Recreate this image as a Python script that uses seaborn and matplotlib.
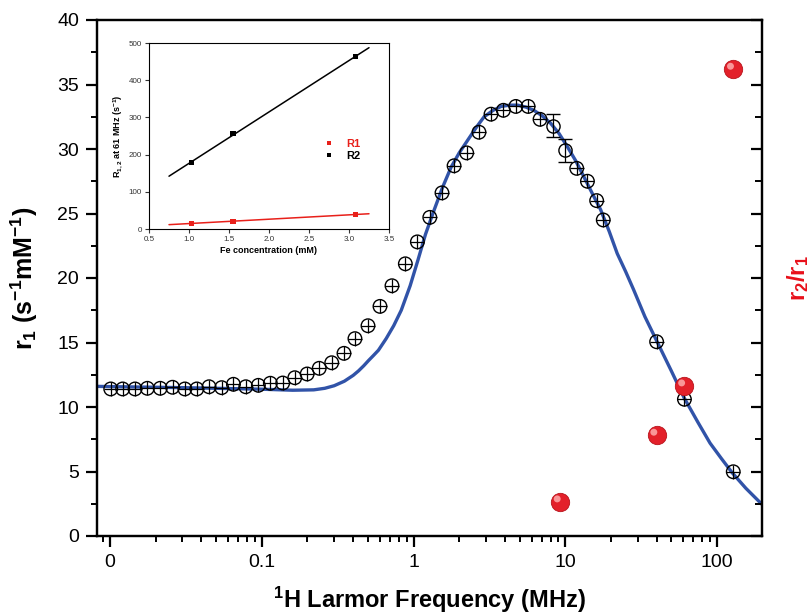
import numpy as np
import pandas as pd
import matplotlib
matplotlib.use("Agg")
import matplotlib.pyplot as plt
from matplotlib.ticker import MultipleLocator, LogLocator, FixedLocator, FixedFormatter, NullFormatter
from matplotlib.path import Path
import seaborn as sns

# ---------------- data ----------------
# NMRD profile (r1 vs 1H Larmor frequency)
freq = [0.0101, 0.0121, 0.0146, 0.0176, 0.0214, 0.0258, 0.0311, 0.0373, 0.0449, 0.0544,
        0.0650, 0.0784, 0.0949, 0.1138, 0.1374, 0.165, 0.199, 0.239, 0.289, 0.348,
        0.411, 0.501, 0.601, 0.721, 0.883, 1.06, 1.28, 1.54, 1.85, 2.24,
        2.70, 3.24, 3.91, 4.72, 5.69, 6.82, 11.9, 14.0, 16.1, 17.8,
        40.0, 61.0, 128.0]
r1 = [11.40, 11.40, 11.40, 11.45, 11.45, 11.53, 11.40, 11.40, 11.57, 11.50,
      11.76, 11.57, 11.68, 11.84, 11.86, 12.27, 12.56, 13.00, 13.43, 14.16,
      15.3, 16.3, 17.8, 19.4, 21.1, 22.8, 24.7, 26.6, 28.7, 29.7,
      31.3, 32.7, 33.0, 33.3, 33.3, 32.3, 28.5, 27.5, 26.0, 24.5,
      15.06, 10.6, 4.98]
# points drawn with error bars
freq_err = [8.26, 9.95]
r1_err = [31.8, 29.9]
r1_err_size = [0.9, 0.9]

# fitted curve
fit_f = [0.0082, 0.01, 0.03, 0.1, 0.16, 0.22, 0.26, 0.30, 0.35, 0.40, 0.434, 0.47, 0.505,
         0.545, 0.587, 0.66, 0.74, 0.83, 0.95, 1.07, 1.2, 1.37, 1.55, 1.77, 2.0, 2.28,
         2.6, 2.92, 3.35, 3.78, 4.3, 4.85, 5.5, 6.2, 7.0, 8.0, 9.1, 10.3, 11.7, 13.2,
         15.0, 17.1, 19.5, 22.0, 25.0, 28.2, 33.5, 40.3, 50.0, 60.8, 75.0, 90.0, 107.0,
         126.0, 155.0, 198.0]
fit_r = [11.6, 11.58, 11.5, 11.38, 11.3, 11.33, 11.45, 11.65, 12.0, 12.45, 12.8, 13.2, 13.6,
         14.0, 14.4, 15.3, 16.3, 17.5, 19.4, 21.4, 23.4, 25.3, 27.0, 28.6, 29.7, 30.7,
         31.7, 32.5, 33.0, 33.3, 33.4, 33.4, 33.25, 33.0, 32.6, 32.0, 31.2, 30.2, 29.1, 27.9,
         26.6, 25.3, 23.6, 21.9, 20.5, 19.1, 17.0, 15.06, 12.8, 10.7, 8.8, 7.2, 6.0,
         4.9, 3.7, 2.45]

# r2/r1 ratio
ratio_f = [9.23, 40.0, 61.0, 128.0]
ratio = [2.66, 7.83, 11.65, 36.2]

# inset: relaxation rates at 61 MHz vs Fe concentration
conc = [1.03, 1.55, 3.08]
R1 = [15, 21, 39]
R2 = [178, 256, 463]
fit_range = [0.75, 3.25]

xtick_vals = [0.01, 0.1, 1, 10, 100]
xtick_labels = ["0", "0.1", "1", "10", "100"]

# ---------------- style ----------------
sns.set_style("ticks")
plt.rcParams["font.family"] = ["Liberation Sans", "DejaVu Sans"]
plt.rcParams["mathtext.default"] = "regular"
for k in ["text.color", "axes.labelcolor", "xtick.color", "ytick.color", "axes.edgecolor"]:
    plt.rcParams[k] = "black"

fig = plt.figure(figsize=(8.11, 6.16), dpi=100)
ax = fig.add_axes([97/811, 1-536/616, (762-97)/811, (536-20)/616])

df = pd.DataFrame({"f": freq, "r1": r1})
dfit = pd.DataFrame({"f": fit_f, "r": fit_r})

blue = "#3153a8"
sns.lineplot(data=dfit, x="f", y="r", ax=ax, color=blue, lw=2.4, zorder=2, sort=False)
sns.scatterplot(data=df, x="f", y="r1", ax=ax, marker="o", s=95, facecolor="none",
                edgecolor="black", linewidth=1.0, zorder=3)
sns.scatterplot(data=df, x="f", y="r1", ax=ax, marker="+", s=95, color="black",
                linewidth=0.9, zorder=3)
ax.errorbar(freq_err, r1_err, yerr=r1_err_size, fmt="o", ms=9.5, mfc="none", mec="black",
            mew=1.0, ecolor="black", elinewidth=0.9, capsize=5, capthick=0.9, zorder=3)

ax.set_xscale("log")
ax.set_ylim(0, 40)

# twin axis for r2/r1
ax2 = ax.twinx()
ax2.set_ylim(0, 40)
dr = pd.DataFrame({"f": ratio_f, "ratio": ratio})
sns.scatterplot(data=dr, x="f", y="ratio", ax=ax2, s=175, color="#e3202a",
                edgecolor="#b8141c", linewidth=0.6, zorder=4)
hl = Path.circle(center=(-0.16, 0.16), radius=0.2)
sns.scatterplot(data=dr, x="f", y="ratio", ax=ax2, s=81, marker=hl, color="#ffb4b4",
                edgecolor="none", alpha=0.8, zorder=5)
ax2.set_xscale("log")
ax2.yaxis.set_major_locator(MultipleLocator(5))
ax2.yaxis.set_minor_locator(MultipleLocator(2.5))
ax2.tick_params(axis="y", which="major", direction="in", length=8, width=1.6, labelright=False)
ax2.tick_params(axis="y", which="minor", direction="in", length=5, width=1.4)
for s in ax2.spines.values():
    s.set_linewidth(1.6)
ax2.set_ylabel("r$_2$/r$_1$", fontsize=17, fontweight="bold", color="#e8101a",
               rotation=90, labelpad=13)

# main axis formatting (after twin so it is not reset)
ax.set_xlim(0.0082, 198)
ax.xaxis.set_major_locator(FixedLocator(xtick_vals))
ax.xaxis.set_major_formatter(FixedFormatter(xtick_labels))
ax.xaxis.set_minor_locator(LogLocator(base=10, subs=np.arange(2, 10)))
ax.xaxis.set_minor_formatter(NullFormatter())
ax.yaxis.set_major_locator(MultipleLocator(5))
ax.yaxis.set_minor_locator(MultipleLocator(2.5))
for s in ax.spines.values():
    s.set_linewidth(1.6)
ax.tick_params(axis="both", which="major", direction="out", length=8, width=1.6,
               labelsize=14, pad=5)
ax.tick_params(axis="both", which="minor", direction="out", length=4.5, width=1.4)
ax.tick_params(top=False, right=False, which="both")
ax.set_xlabel("$^1$H Larmor Frequency (MHz)", fontsize=17, fontweight="bold",
              family=["Liberation Sans Narrow", "Liberation Sans"], labelpad=10)
ax.set_ylabel("r$_1$ (s$^{-1}$mM$^{-1}$)", fontsize=18, fontweight="bold", labelpad=12)

# ---------------- inset ----------------
axi = fig.add_axes([149/811, 1-229/616, 240/811, 186/616])
p2 = np.polyfit(conc, R2, 1)
p1 = np.polyfit(conc, R1, 1)
fr = np.array(fit_range)
sns.lineplot(x=fr, y=np.polyval(p2, fr), ax=axi, color="black", lw=1.1)
sns.lineplot(x=fr, y=np.polyval(p1, fr), ax=axi, color="#e8201a", lw=1.1)
di = pd.DataFrame({"c": conc * 2, "R": R1 + R2, "s": ["R1"] * 3 + ["R2"] * 3})
sns.scatterplot(data=di, x="c", y="R", hue="s", ax=axi, marker="s", s=14,
                palette={"R1": "#e8201a", "R2": "black"}, edgecolor="none", zorder=3)
axi.set_xlim(0.5, 3.5)
axi.set_ylim(0, 500)
axi.xaxis.set_major_locator(MultipleLocator(0.5))
axi.yaxis.set_major_locator(MultipleLocator(100))
for s in axi.spines.values():
    s.set_linewidth(0.8)
axi.tick_params(direction="out", length=3, width=0.8, labelsize=5.8, pad=2, colors="#333333")
axi.set_xlabel("Fe concentration (mM)", fontsize=6.5, fontweight="bold", labelpad=2)
axi.set_ylabel("R$_{1,2}$ at 61 MHz (s$^{-1}$)", fontsize=6.5, fontweight="bold", labelpad=3)
leg = axi.legend(loc="center left", bbox_to_anchor=(0.66, 0.425), frameon=False,
                 fontsize=8, handletextpad=0.6, labelspacing=0.25, markerscale=0.9,
                 title=None)
for t in leg.get_texts():
    t.set_fontweight("bold")
leg.get_texts()[0].set_color("#e8201a")

fig.savefig("out.png", dpi=100)
